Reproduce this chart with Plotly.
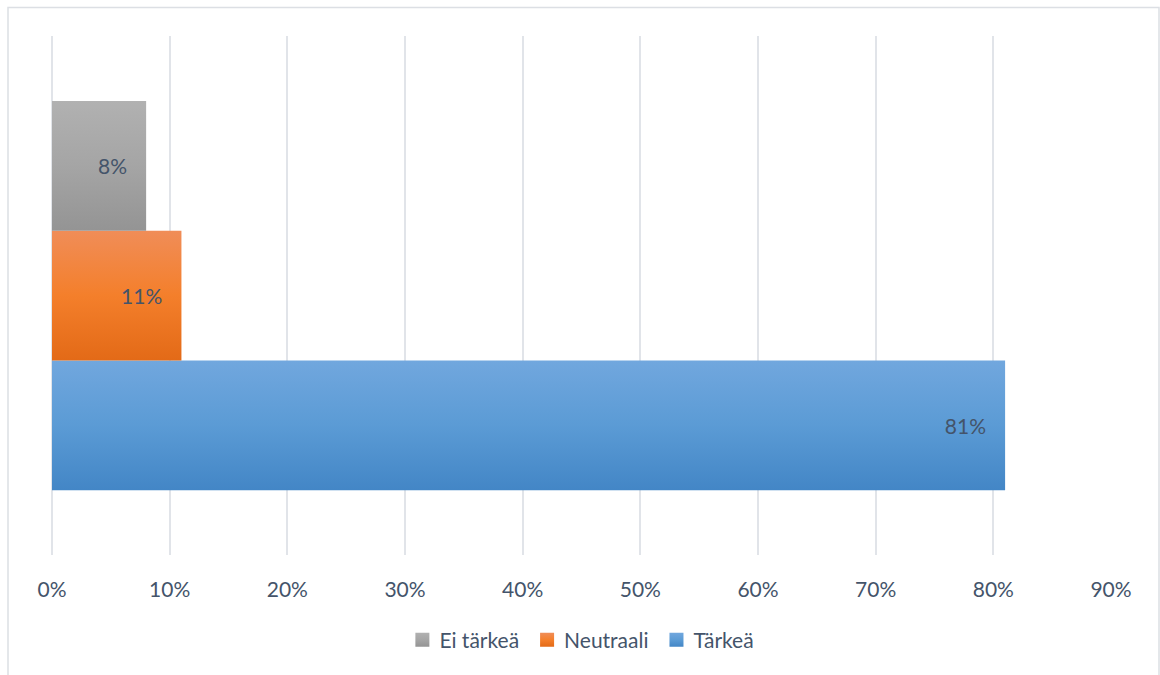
import json
import plotly.graph_objects as go

# Survey answer shares (fraction of respondents)
categories = [""]
series_names = ["Tärkeä", "Neutraali", "Ei tärkeä"]
series_values = [[0.81], [0.11], [0.08]]
series_colors = ["#5b9bd5", "#f47f2b", "#a5a5a5"]
# vertical shading for each series: top, middle, bottom
series_shades = [
    ["#71a7de", "#5b9bd5", "#4386c6"],
    ["#f08d58", "#f47f2b", "#e36a17"],
    ["#b1b1b1", "#a5a5a5", "#949494"],
]
tick_values = [0, 0.1, 0.2, 0.3, 0.4, 0.5, 0.6, 0.7, 0.8, 0.9]
tick_labels = ["0%", "10%", "20%", "30%", "40%", "50%", "60%", "70%", "80%", "90%"]

text_color = "#44546a"
grid_color = "#e1e4e9"
font_family = "Lato, 'Open Sans', sans-serif"
font_size = 21


def hex_to_rgb_css(h):
    h = h.lstrip("#")
    r, g, b = (int(h[i:i + 2], 16) for i in (0, 2, 4))
    return f"rgb({r}, {g}, {b})"


fig = go.Figure()
for name, vals, color in zip(series_names, series_values, series_colors):
    fig.add_trace(go.Bar(
        y=categories,
        x=vals,
        name=name,
        orientation="h",
        marker=dict(color=color, line=dict(width=0)),
        # trailing no-break spaces keep the label off the bar end
        text=[f"{round(v * 100)}%\u00a0\u00a0\u00a0" for v in vals],
        textposition="inside",
        insidetextanchor="end",
        textfont=dict(color=text_color, size=font_size, family=font_family),
    ))

fig.update_layout(
    width=1160,
    height=675,
    margin=dict(l=52, r=49, t=36, b=120),
    paper_bgcolor="white",
    plot_bgcolor="white",
    barmode="group",
    bargap=0.25,
    bargroupgap=0,
    uniformtext=dict(minsize=font_size, mode="show"),
    font=dict(family=font_family, color=text_color, size=font_size),
    showlegend=True,
    legend=dict(
        orientation="h",
        traceorder="reversed",
        x=0.498,
        xanchor="center",
        y=-0.164,
        yanchor="middle",
        font=dict(size=font_size, color=text_color),
        itemwidth=30,
    ),
    xaxis=dict(
        range=[0, 0.9],
        tickvals=tick_values,
        ticktext=tick_labels,
        showgrid=True,
        gridcolor=grid_color,
        gridwidth=1.6,
        zeroline=True,
        zerolinecolor=grid_color,
        zerolinewidth=1.6,
        showline=False,
        ticks="",
        ticklabelstandoff=20,
        tickfont=dict(size=font_size, color=text_color),
    ),
    yaxis=dict(
        showticklabels=False,
        showgrid=False,
        zeroline=False,
        showline=False,
        ticks="",
    ),
    shapes=[
        dict(
            type="rect",
            xref="paper",
            yref="paper",
            x0=(8 - 52) / 1059,
            x1=(1159 - 52) / 1059,
            y0=(555 - 700) / 519,
            y1=(555 - 7.5) / 519,
            line=dict(color="#dcdfe4", width=1.5),
            fillcolor="rgba(0,0,0,0)",
            layer="below",
        )
    ],
)

# Replace the flat bar and legend fills with vertical gradients.
shade_map = {hex_to_rgb_css(c): s for c, s in zip(series_colors, series_shades)}
post_js = """
var gd = document.getElementById('{plot_id}');
var shadeMap = %s;
function applyShading() {
  var svg = gd.querySelector('.main-svg');
  if (!svg) return;
  var defs = svg.querySelector('defs');
  var keys = Object.keys(shadeMap);
  keys.forEach(function (k, i) {
    var id = 'barshade' + i;
    if (!svg.querySelector('#' + id)) {
      var ns = 'http://www.w3.org/2000/svg';
      var lg = document.createElementNS(ns, 'linearGradient');
      lg.setAttribute('id', id);
      lg.setAttribute('x1', '0'); lg.setAttribute('y1', '0');
      lg.setAttribute('x2', '0'); lg.setAttribute('y2', '1');
      [0, 0.5, 1].forEach(function (off, j) {
        var st = document.createElementNS(ns, 'stop');
        st.setAttribute('offset', off);
        st.setAttribute('stop-color', shadeMap[k][j]);
        lg.appendChild(st);
      });
      defs.appendChild(lg);
    }
  });
  gd.querySelectorAll('.barlayer path, .legend .legendpoints path').forEach(function (p) {
    var f = p.style.fill;
    var idx = keys.indexOf(f);
    if (idx >= 0) p.style.fill = 'url(#barshade' + idx + ')';
  });
  // slightly larger legend swatches, nudged toward their labels
  gd.querySelectorAll('.legend .legendpoints path').forEach(function (p) {
    p.setAttribute('d', 'M10,7H-4V-7H10Z');
  });
}
applyShading();
gd.on('plotly_afterplot', applyShading);
setTimeout(applyShading, 50);
""" % json.dumps(shade_map)

fig.write_html("out.html", post_script=post_js)
